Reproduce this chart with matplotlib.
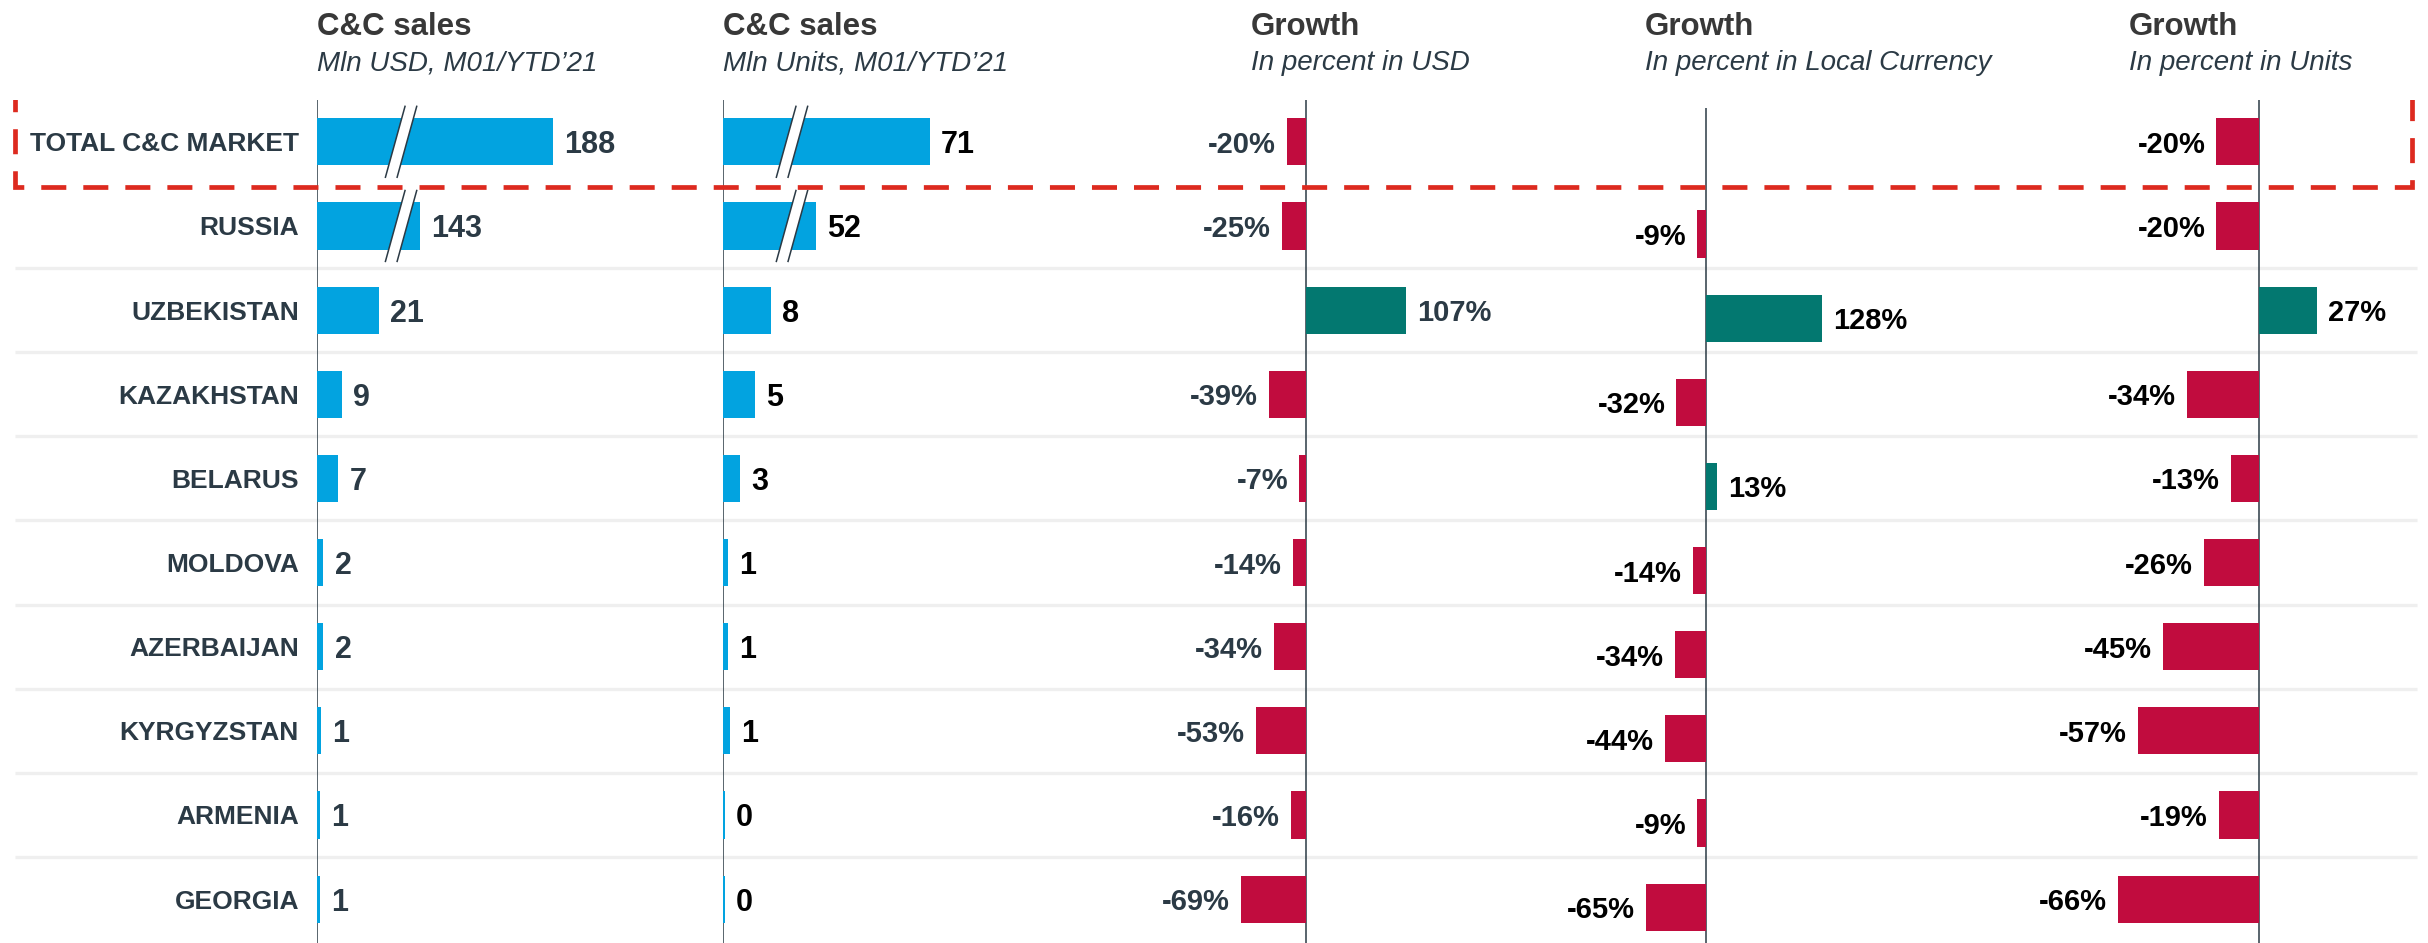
import numpy as np
import matplotlib
matplotlib.use('Agg')
import matplotlib.pyplot as plt
import matplotlib.patches as mpatches

plt.rcParams['font.family'] = ['Liberation Sans', 'DejaVu Sans']

countries = ['TOTAL C&C MARKET', 'RUSSIA', 'UZBEKISTAN', 'KAZAKHSTAN', 'BELARUS',
             'MOLDOVA', 'AZERBAIJAN', 'KYRGYZSTAN', 'ARMENIA', 'GEORGIA']
sales_usd = [188, 143, 21.1, 8.6, 7.2, 2.2, 2.2, 1.4, 0.9, 0.9]
sales_units = [71, 52, 7.95, 5.3, 2.8, 0.8, 0.8, 1.2, 0.3, 0.3]
growth_usd = [-20, -25, 107, -39, -7, -14, -34, -53, -16, -69]
growth_lc = [np.nan, -9, 128, -32, 13, -14, -34, -44, -9, -65]
growth_units = [-20, -20, 27, -34, -13, -26, -45, -57, -19, -66]

titles = ['C&C sales', 'C&C sales', 'Growth', 'Growth', 'Growth']
subtitles = ['Mln USD, M01/YTD\u201921', 'Mln Units, M01/YTD\u201921', 'In percent in USD',
             'In percent in Local Currency', 'In percent in Units']

BLUE = '#02a3e0'
RED = '#c10c3e'
GREEN = '#037870'
SLATE = '#2b3a45'
DASH_RED = '#dd2a1f'

W, H = 2428, 943
row0, step, top = 141.8, 84.15, 100
y_top = (top - row0) / step
y_bot = (H - row0) / step
rows = np.arange(len(countries))

fig = plt.figure(figsize=(W / 100, H / 100), dpi=100)

# background separators
bg = fig.add_axes([0, 0, 1, (H - top) / H], zorder=-1)
bg.set_xlim(0, W)
bg.set_ylim(y_bot, y_top)
bg.axis('off')
bg.hlines(rows[1:-1] + 0.5, 15, 2417, color='#efefef', lw=2.4)


def add_panel(left, right, zero, ppu, shift=0):
    ax = fig.add_axes([left / W, -shift / H, (right - left) / W, (H - top) / H])
    ax.set_xlim((left - zero) / ppu, (right - zero) / ppu)
    ax.set_ylim(y_bot, y_top)
    ax.set_facecolor('none')
    ax.axis('off')
    ax.axvline(0, color=SLATE, lw=1.1, zorder=1)
    return ax


def label_bars(ax, vals, color, size, fmt):
    for i, v in enumerate(vals):
        if np.isnan(v):
            continue
        off = 8 if v >= 0 else -8
        ax.annotate(fmt.format(v), (v, i), xytext=(off, 0), textcoords='offset points',
                    ha='left' if v >= 0 else 'right', va='center_baseline',
                    fontsize=size, fontweight='bold', color=color)


def draw_break(ax, x0, row, ppu):
    half = 10 / ppu
    gap = 11.7 / ppu
    a = x0 - gap / 2
    b = x0 + gap / 2
    hh = 0.43
    poly = mpatches.Polygon([(a - half, row + hh), (a + half, row - hh),
                             (b + half, row - hh), (b - half, row + hh)],
                            closed=True, facecolor='white', edgecolor='none', zorder=3)
    ax.add_patch(poly)
    for c in (a, b):
        ax.plot([c - half, c + half], [row + hh, row - hh], color=SLATE, lw=1.1,
                zorder=4, solid_capstyle='butt')


bar_h = 0.56

# panel 1: sales in USD (broken bars for the two largest)
ppu1 = 2.95
usd_cut, usd_brk = 108, 28.5
ax1 = add_panel(317, 700, 317, ppu1)
usd = np.array(sales_usd, dtype=float)
usd_shown = np.where(usd > 100, usd - usd_cut, usd)
ax1.barh(rows, usd_shown, height=bar_h, color=BLUE, zorder=2)
for i, v in enumerate(usd):
    ax1.annotate(f'{v:.0f}', (usd_shown[i], i), xytext=(8, 0), textcoords='offset points',
                 ha='left', va='center_baseline', fontsize=22, fontweight='bold', color=SLATE)
    if v > 100:
        draw_break(ax1, usd_brk, i, ppu1)
for i, name in enumerate(countries):
    ax1.annotate(name, (0, i), xytext=(-13, 0), textcoords='offset points',
                 ha='right', va='center_baseline', fontsize=19, fontweight='bold', color=SLATE)

# panel 2: sales in units
ppu2 = 6.0
units_cut, units_brk = 36.5, 11.5
ax2 = add_panel(723, 1100, 723, ppu2)
un = np.array(sales_units, dtype=float)
un_shown = np.where(un > 40, un - units_cut, un)
ax2.barh(rows, un_shown, height=bar_h, color=BLUE, zorder=2)
for i, v in enumerate(un):
    ax2.annotate(f'{v:.0f}', (un_shown[i], i), xytext=(8, 0), textcoords='offset points',
                 ha='left', va='center_baseline', fontsize=22, fontweight='bold', color='black')
    if v > 40:
        draw_break(ax2, units_brk, i, ppu2)

# growth panels
growth_sets = [
    (growth_usd, 1120, 1600, 1305.7, 0.94, 0, SLATE),
    (growth_lc, 1610, 2050, 1705.5, 0.91, 8, 'black'),
    (growth_units, 2060, 2428, 2259, 2.13, 0, 'black'),
]
for vals, left, right, zero, ppu, shift, tcol in growth_sets:
    ax = add_panel(left, right, zero, ppu, shift)
    v = np.array(vals, dtype=float)
    colors = [GREEN if x >= 0 else RED for x in np.nan_to_num(v)]
    ax.barh(rows, np.nan_to_num(v), height=bar_h, color=colors, zorder=2)
    label_bars(ax, v, tcol, 21, '{:.0f}%')

# headers
title_x = [317, 723, 1251, 1645, 2129]
for x, t, s in zip(title_x, titles, subtitles):
    fig.text(x / W, 1 - 35 / H, t, fontsize=22.5, fontweight='bold', color='#383838', va='baseline')
    fig.text(x / W, 1 - 70 / H, s, fontsize=20, fontstyle='italic', color=SLATE, va='baseline')

# dashed highlight box around the total row
ov = fig.add_axes([0, 0, 1, (H - top) / H], zorder=10)
ov.set_xlim(0, W)
ov.set_ylim(y_bot, y_top)
ov.set_facecolor('none')
ov.axis('off')
ov.add_patch(mpatches.Rectangle((15, -0.536), 2411.7 - 15, 1.07, fill=False,
                                edgecolor=DASH_RED, lw=3.4, linestyle=(0, (5.3, 3.6))))

fig.savefig('out.png', dpi=100)
